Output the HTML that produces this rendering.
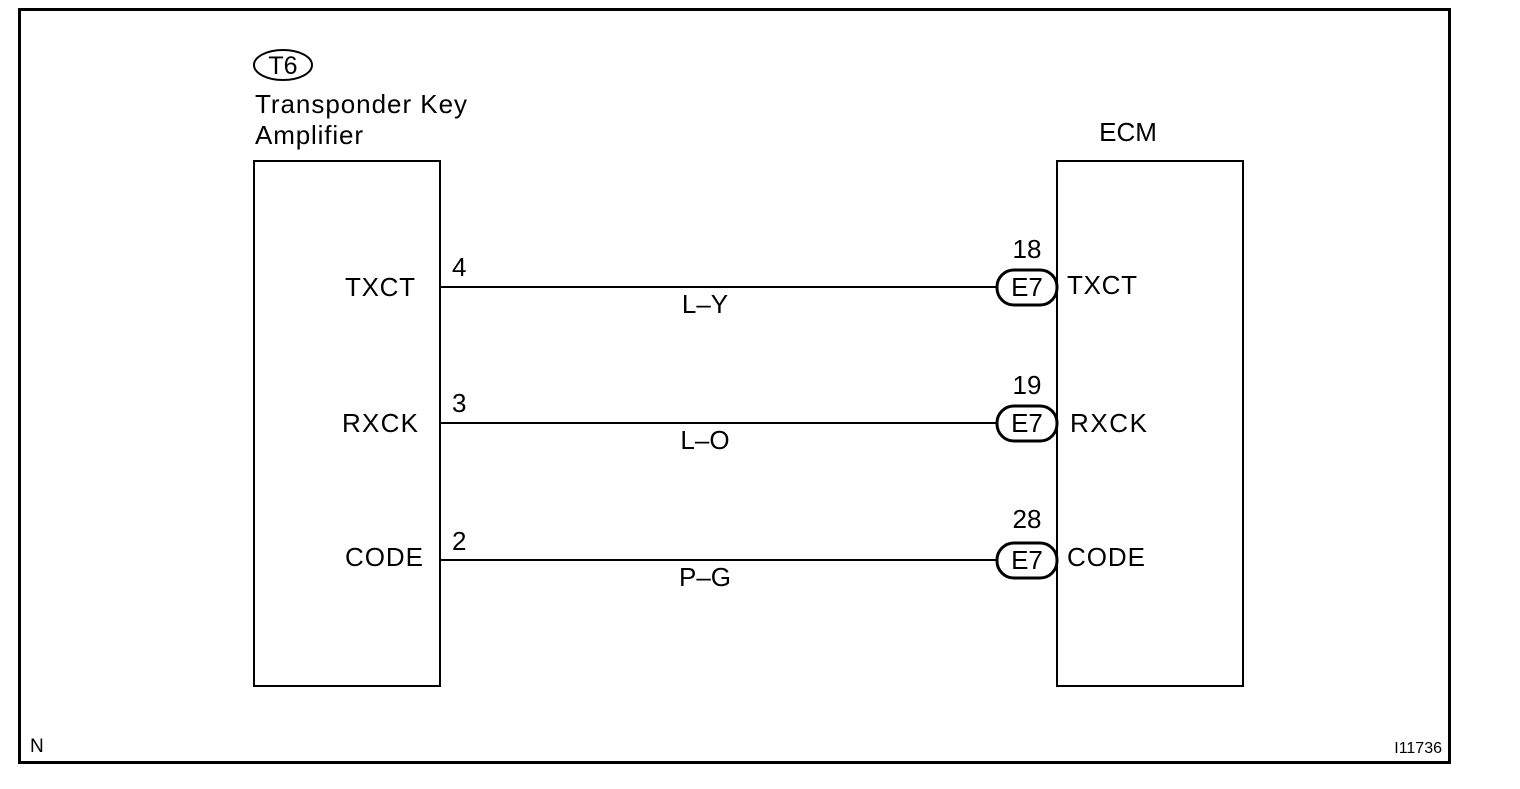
<!DOCTYPE html>
<html><head><style>
body{margin:0;background:#fff;}
svg text{font-family:"Liberation Sans",Arial,sans-serif;fill:#000;}
</style></head><body>
<svg width="1520" height="784" xmlns="http://www.w3.org/2000/svg">
<rect x="19.5" y="9.5" width="1430" height="753" fill="none" stroke="#000" stroke-width="3"/>
<ellipse cx="283" cy="65" rx="29" ry="15" fill="none" stroke="#000" stroke-width="2"/>
<text x="283" y="74" font-size="25" text-anchor="middle">T6</text>
<text x="255" y="113" font-size="26" textLength="212">Transponder Key</text>
<text x="255" y="144" font-size="26" textLength="108">Amplifier</text>
<text x="1128" y="141" font-size="26" text-anchor="middle">ECM</text>
<rect x="254" y="161" width="186" height="525" fill="none" stroke="#000" stroke-width="2"/>
<rect x="1057" y="161" width="186" height="525" fill="none" stroke="#000" stroke-width="2"/>
<g font-size="26">
<text x="345" y="296" textLength="70">TXCT</text>
<text x="342" y="432" textLength="76">RXCK</text>
<text x="345" y="566" textLength="78">CODE</text>
<text x="452" y="276">4</text>
<text x="452" y="412">3</text>
<text x="452" y="550">2</text>
<text x="705" y="313" text-anchor="middle">L–Y</text>
<text x="705" y="449" text-anchor="middle">L–O</text>
<text x="705" y="586" text-anchor="middle">P–G</text>
<text x="1027" y="258" text-anchor="middle">18</text>
<text x="1027" y="394" text-anchor="middle">19</text>
<text x="1027" y="528" text-anchor="middle">28</text>
<text x="1067" y="294" textLength="70">TXCT</text>
<text x="1070" y="432" textLength="77">RXCK</text>
<text x="1067" y="566" textLength="78">CODE</text>
</g>
<g stroke="#000" stroke-width="2" fill="#fff">
<line x1="440" y1="287" x2="998" y2="287"/>
<line x1="440" y1="423" x2="998" y2="423"/>
<line x1="440" y1="560" x2="998" y2="560"/>
<rect x="997" y="270" width="60" height="35" rx="17" stroke-width="3"/>
<rect x="997" y="406" width="60" height="35" rx="17" stroke-width="3"/>
<rect x="997" y="543" width="60" height="35" rx="17" stroke-width="3"/>
</g>
<g font-size="26">
<text x="1027" y="296" text-anchor="middle">E7</text>
<text x="1027" y="432" text-anchor="middle">E7</text>
<text x="1027" y="569" text-anchor="middle">E7</text>
</g>
<text x="30" y="752" font-size="19">N</text>
<text x="1442" y="753" font-size="16" text-anchor="end">I11736</text>
</svg>
</body></html>
